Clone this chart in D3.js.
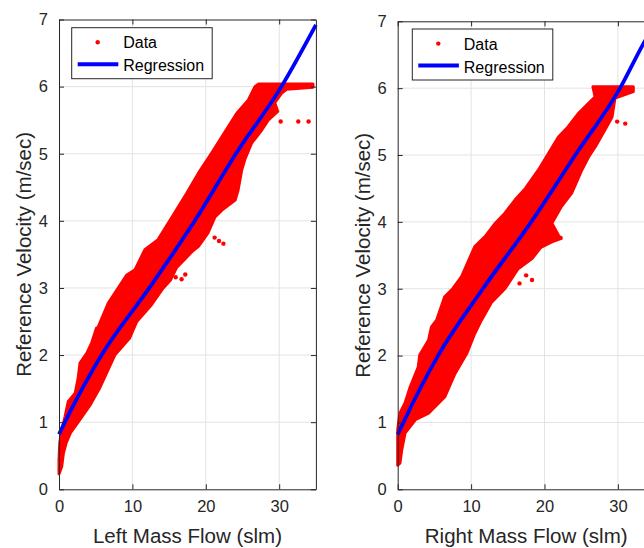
<!DOCTYPE html>
<html>
<head>
<meta charset="utf-8">
<script src="https://cdn.jsdelivr.net/npm/d3@7"></script>
<style>
  body { margin: 0; background: #fff; }
  svg { display: block; font-family: "Liberation Sans", Arial, sans-serif; }
</style>
</head>
<body>
<div id="chart"></div>
<script>
// Axis ticks
const xTicks = [0, 10, 20, 30];
const yTicks = [0, 1, 2, 3, 4, 5, 6, 7];

// Regression curves
const leftRegX = [0, 0.8, 5.8, 12.3, 18.5, 24.1, 30.3, 35];
const leftRegY = [0.82, 1, 2, 3, 4, 5, 6, 6.92];
const rightRegX = [0, 0.77, 5.5, 11.6, 18.2, 24.2, 30.3, 33.5, 35];
const rightRegY = [0.82, 1, 2, 3, 4, 5, 6, 6.67, 6.95];

// Outline of the dense data cloud, [mass flow, velocity]
const leftCloud = [
  [0, 0.23], [0, 0.44], [0.1, 0.69], [0.37, 0.88], [0.82, 1.08], [1.27, 1.31], [2.2, 1.43],
  [2.6, 1.65], [2.86, 1.88], [3.8, 2.03], [4.45, 2.18], [5.1, 2.4], [5.35, 2.42], [6.7, 2.77],
  [9.2, 3.19], [10.35, 3.27], [11.7, 3.57], [13.5, 3.72], [15.6, 4.09], [17.4, 4.41],
  [19.0, 4.71], [20.8, 5.01], [24.2, 5.6], [25.8, 5.8], [26.7, 6.0], [27.2, 6.04],
  [34.6, 6.04], [34.6, 5.99], [31.0, 5.96], [30.3, 5.9], [29.4, 5.76], [29.8, 5.63],
  [28.5, 5.5], [27.6, 5.35], [26.25, 5.16], [25.3, 4.91], [24.9, 4.76], [24.4, 4.46],
  [24, 4.31], [22.2, 4.16], [21.25, 4.06], [20.3, 3.82], [19.0, 3.62], [18.2, 3.55],
  [16.0, 3.3], [15.2, 3.12], [14.2, 3.0], [12.6, 2.75], [10.6, 2.5], [9.6, 2.25],
  [7.6, 2.0], [5.5, 1.5], [4.2, 1.25], [2.6, 1.0], [1.6, 0.85], [1.0, 0.7], [0.6, 0.54],
  [0.37, 0.34]
];
const rightCloud = [
  [0, 0.36], [0, 0.54], [0, 0.89], [0.3, 1.14], [1.0, 1.29], [1.7, 1.53], [2.8, 1.83],
  [3.0, 2.01], [4.2, 2.23], [4.6, 2.43], [5.3, 2.53], [6.4, 2.88], [7.5, 3.0], [8.7, 3.18],
  [10.5, 3.63], [11.9, 3.78], [13.3, 3.98], [14.6, 4.13], [16.0, 4.33], [17.4, 4.5],
  [19.2, 4.78], [21.9, 5.27], [23.2, 5.42], [24.6, 5.62], [26.9, 5.87], [26.6, 6.02],
  [32.1, 6.02], [32.1, 5.95], [29.6, 5.85], [29.2, 5.57], [28.2, 5.37], [26.9, 5.12],
  [26, 4.97], [25.1, 4.78], [23.7, 4.43], [22.3, 4.23], [21.0, 3.98], [21.9, 3.8],
  [22.2, 3.75], [21.0, 3.7], [19.5, 3.62], [18.3, 3.45], [16.4, 3.3], [14.6, 3.0],
  [12.8, 2.8], [11.4, 2.53], [10.5, 2.33], [9.4, 2.03], [7.8, 1.73], [6.4, 1.38],
  [4.2, 1.14], [2.4, 1.04], [1.0, 0.84], [0.55, 0.59], [0.3, 0.39]
];

// Scattered points outside the cloud
const leftOutliers = [[32.6, 5.48], [34.0, 5.48], [30.2, 5.48], [22.4, 3.66], [21.8, 3.7],
  [21.2, 3.75], [17.2, 3.2], [16.7, 3.13], [15.9, 3.16]];
const rightOutliers = [[31.0, 5.47], [29.9, 5.5], [22.2, 3.76], [18.3, 3.13], [17.5, 3.2],
  [16.6, 3.08]];

const width = 644, height = 548;
const axisColor = '#262626';

const svg = d3.select('#chart')
  .append('svg')
  .attr('width', width)
  .attr('height', height);

function drawPanel(opts) {
  const g = svg.append('g');

  const xScale = d3.scaleLinear().domain([0, 35]).range([opts.left, opts.left + 35 * 7.34]);
  const yScale = d3.scaleLinear().domain([0, 7]).range([489.3, opts.top]);
  const x0 = xScale.range()[0], x1 = xScale.range()[1];
  const y0 = yScale.range()[0], y1 = yScale.range()[1];

  // Grid
  g.selectAll('.vgrid')
    .data(xTicks.slice(1))
    .enter().append('line')
    .attr('x1', d => xScale(d)).attr('x2', d => xScale(d))
    .attr('y1', y0).attr('y2', y1)
    .attr('stroke', '#e3e3e3').attr('stroke-width', 1);
  g.selectAll('.hgrid')
    .data(yTicks.slice(1, -1))
    .enter().append('line')
    .attr('x1', x0).attr('x2', x1)
    .attr('y1', d => yScale(d)).attr('y2', d => yScale(d))
    .attr('stroke', '#e3e3e3').attr('stroke-width', 1);

  // Data cloud
  const line = d3.line().x(d => xScale(d[0])).y(d => yScale(d[1]));
  g.append('path')
    .attr('d', line.curve(d3.curveLinearClosed)(opts.cloud))
    .attr('fill', '#ff0000')
    .attr('stroke', '#ff0000')
    .attr('stroke-width', 3)
    .attr('stroke-linejoin', 'round');

  g.selectAll('.outlier')
    .data(opts.outliers)
    .enter().append('circle')
    .attr('cx', d => xScale(d[0]))
    .attr('cy', d => yScale(d[1]))
    .attr('r', 2.2)
    .attr('fill', '#ff0000');

  // Regression line
  const reg = opts.regX.map((x, i) => [x, opts.regY[i]]);
  g.append('path')
    .datum(reg)
    .attr('d', d3.line().x(d => xScale(d[0])).y(d => yScale(d[1])).curve(d3.curveMonotoneX))
    .attr('fill', 'none')
    .attr('stroke', '#0000ff')
    .attr('stroke-width', 3.8);

  // Axes (box with inward ticks)
  const fmt = d3.format('d');
  const bottom = g.append('g')
    .attr('transform', `translate(0,${y0})`)
    .call(d3.axisBottom(xScale).tickValues(xTicks).tickFormat(fmt).tickSizeInner(-5).tickSizeOuter(0).tickPadding(11));
  const left = g.append('g')
    .attr('transform', `translate(${x0},0)`)
    .call(d3.axisLeft(yScale).tickValues(yTicks).tickFormat(fmt).tickSizeInner(-5).tickSizeOuter(0).tickPadding(11));
  const top = g.append('g')
    .attr('transform', `translate(0,${y1})`)
    .call(d3.axisTop(xScale).tickValues(xTicks).tickSizeInner(-5).tickSizeOuter(0).tickFormat(''));
  const right = g.append('g')
    .attr('transform', `translate(${x1},0)`)
    .call(d3.axisRight(yScale).tickValues(yTicks).tickSizeInner(-5).tickSizeOuter(0).tickFormat(''));

  [bottom, left, top, right].forEach(a => {
    a.select('.domain').attr('stroke', axisColor).attr('stroke-width', 1);
    a.selectAll('.tick line').attr('stroke', axisColor);
    a.selectAll('.tick text')
      .attr('fill', axisColor)
      .style('font-size', '16.5px')
      .style('font-family', '"Liberation Sans", Arial, sans-serif');
  });

  // Axis labels
  g.append('text')
    .attr('x', opts.left + 128.5)
    .attr('y', 543)
    .attr('text-anchor', 'middle')
    .attr('fill', axisColor)
    .style('font-size', '20.5px')
    .text(opts.xLabel);

  g.append('text')
    .attr('transform', `translate(${opts.left - 28},${(y0 + y1) / 2}) rotate(-90)`)
    .attr('text-anchor', 'middle')
    .attr('fill', axisColor)
    .style('font-size', '20.5px')
    .text('Reference Velocity (m/sec)');

  // Legend
  const lg = g.append('g').attr('transform', `translate(${opts.legend[0]},${opts.legend[1]})`);
  lg.append('rect')
    .attr('x', 0).attr('y', 0)
    .attr('width', 140.5).attr('height', 51)
    .attr('fill', '#fff')
    .attr('stroke', axisColor)
    .attr('stroke-width', 1);
  lg.append('circle')
    .attr('cx', 26).attr('cy', 14.6).attr('r', 2.2).attr('fill', '#ff0000');
  lg.append('line')
    .attr('x1', 6).attr('x2', 46.6)
    .attr('y1', 36.6).attr('y2', 36.6)
    .attr('stroke', '#0000ff').attr('stroke-width', 4);
  lg.append('text')
    .attr('x', 51.5).attr('y', 20.6)
    .attr('fill', '#000')
    .style('font-size', '16px')
    .text('Data');
  lg.append('text')
    .attr('x', 51.5).attr('y', 43.8)
    .attr('fill', '#000')
    .style('font-size', '16px')
    .text('Regression');
}

drawPanel({
  left: 59, top: 19.5,
  cloud: leftCloud, outliers: leftOutliers,
  regX: leftRegX, regY: leftRegY,
  xLabel: 'Left Mass Flow (slm)',
  legend: [71.7, 27.7]
});

drawPanel({
  left: 397.7, top: 21.3,
  cloud: rightCloud, outliers: rightOutliers,
  regX: rightRegX, regY: rightRegY,
  xLabel: 'Right Mass Flow (slm)',
  legend: [412.3, 29]
});
</script>
</body>
</html>
